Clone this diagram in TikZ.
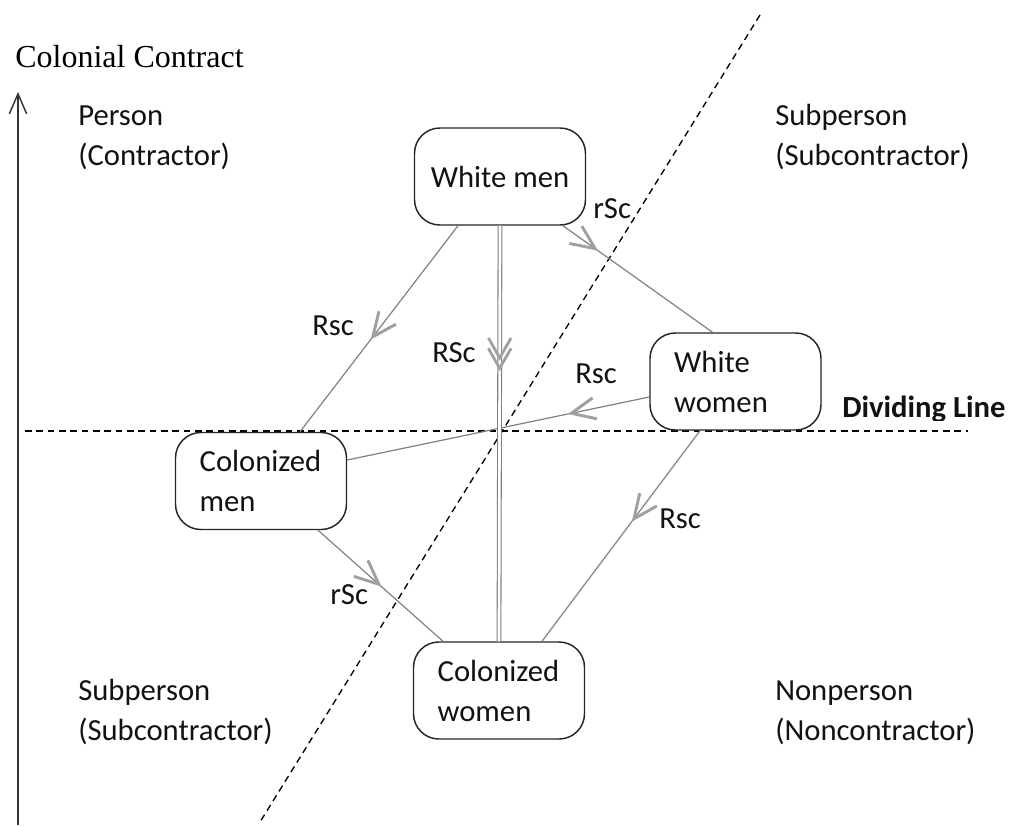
\documentclass[tikz,border=0pt]{standalone}
\usepackage{fontspec}
\setmainfont{Carlito}
\newfontfamily\timesfont{Liberation Serif}
\usetikzlibrary{arrows.meta,decorations.markings,calc}
\definecolor{edgegray}{HTML}{808080}
\definecolor{chevgray}{HTML}{A0A0A0}
\definecolor{boxline}{HTML}{262626}
\definecolor{txt}{HTML}{121212}
\begin{document}
\begin{tikzpicture}[x=0.75pt,y=-0.75pt,
  box/.style={draw=boxline,line width=1.1pt,rounded corners=19pt,
    minimum width=128.25pt,minimum height=72.75pt,inner sep=0pt,
    font=\fontsize{23}{30}\selectfont,text=txt,fill=white},
  boxl/.style={box,align=left,text width=92pt},
  lbl/.style={anchor=base west,inner sep=0pt,font=\fontsize{23}{30}\selectfont,text=txt},
  edge/.style={draw=edgegray,line width=0.9pt},
  chev/.tip={Straight Barb[length=18pt,width=16pt,line width=2.2pt,color=chevgray]},
  dchev/.tip={Straight Barb[length=15pt,width=17pt,line width=2.1pt,color=chevgray]},
  mid/.style={postaction={decorate},decoration={markings,mark=at position #1 with {\arrow{chev}}}},
  divider/.style={draw=black,line width=1pt,dash pattern=on 5pt off 3.5pt},
]
\useasboundingbox (0,0) rectangle (1010,825);

% title and axis
\node[anchor=base west,inner sep=0pt,font=\timesfont\fontsize{24}{28}\selectfont] (title) at (15,67) {Colonial Contract};
\coordinate (axisbot) at (18,825);
\coordinate (axistop) at (18,92);
\draw[line width=1.1pt,draw=black!80,-{Straight Barb[length=15pt,width=13pt]}] (axisbot) -- (axistop);

% dividing lines
\coordinate (hl) at (25,431);
\coordinate (hr) at (968,431);
\draw[divider] (hl) -- (hr);
\coordinate (dtop) at (760,15);
\coordinate (dbot) at (260,822);
\draw[divider] (dtop) -- (dbot);

% region labels
\node[lbl] (p1) at (78,125) {Person};
\node[lbl] (p2) at (78,165) {(Contractor)};
\node[lbl] (s1) at (775,125) {Subperson};
\node[lbl] (s2) at (775,165) {(Subcontractor)};
\node[lbl] (s3) at (78,700) {Subperson};
\node[lbl] (s4) at (78,740) {(Subcontractor)};
\node[lbl] (n1) at (775,700) {Nonperson};
\node[lbl] (n2) at (775,740) {(Noncontractor)};

\begin{scope}
\clip (800,380) rectangle (1010,420.5);
\node[lbl,font=\bfseries\fontsize{23}{30}\selectfont] (divlbl) at (842,417) {Dividing Line};
\end{scope}

% boxes
\node[box,align=center] (wm) at (500,176.5) {White men};
\node[boxl] (ww) at (735.5,381.5) {White\\women};
\node[boxl] (cm) at (261,481) {Colonized\\men};
\node[boxl] (cw) at (499,690.5) {Colonized\\women};

% connectors
\draw[edge,mid=0.553] ($(wm.south)+(-42,0)$) -- ($(cm.north)+(39,0)$);
\draw[edge,mid=0.235] ($(wm.south)+(63,0)$) -- ($(ww.north)+(-23,0)$);
\draw[edge,mid=0.27] ($(ww.west)+(0,15.5)$) -- ($(cm.east)+(0,-21)$);
\draw[edge,mid=0.432] ($(ww.south)+(-35.5,0)$) -- ($(cw.north)+(43,0)$);
\draw[edge,mid=0.51] ($(cm.south)+(57,0)$) -- ($(cw.north)+(-56,0)$);
\draw[draw=edgegray,line width=0.8pt,double=white,double distance=2pt] (wm.south) -- (cw.north);
\path[postaction={decorate},decoration={markings,
   mark=at position 0.325 with {\arrow{dchev}},
   mark=at position 0.35 with {\arrow{dchev}}}] (wm.south) -- (cw.north);

% edge labels
\node[lbl] (l1) at (312,335) {Rsc};
\node[lbl] (l2) at (432,362) {RSc};
\node[lbl] (l3) at (593,218) {rSc};
\node[lbl] (l4) at (575,383) {Rsc};
\node[lbl] (l5) at (659,528) {Rsc};
\node[lbl] (l6) at (330,604) {rSc};
\end{tikzpicture}
\end{document}
